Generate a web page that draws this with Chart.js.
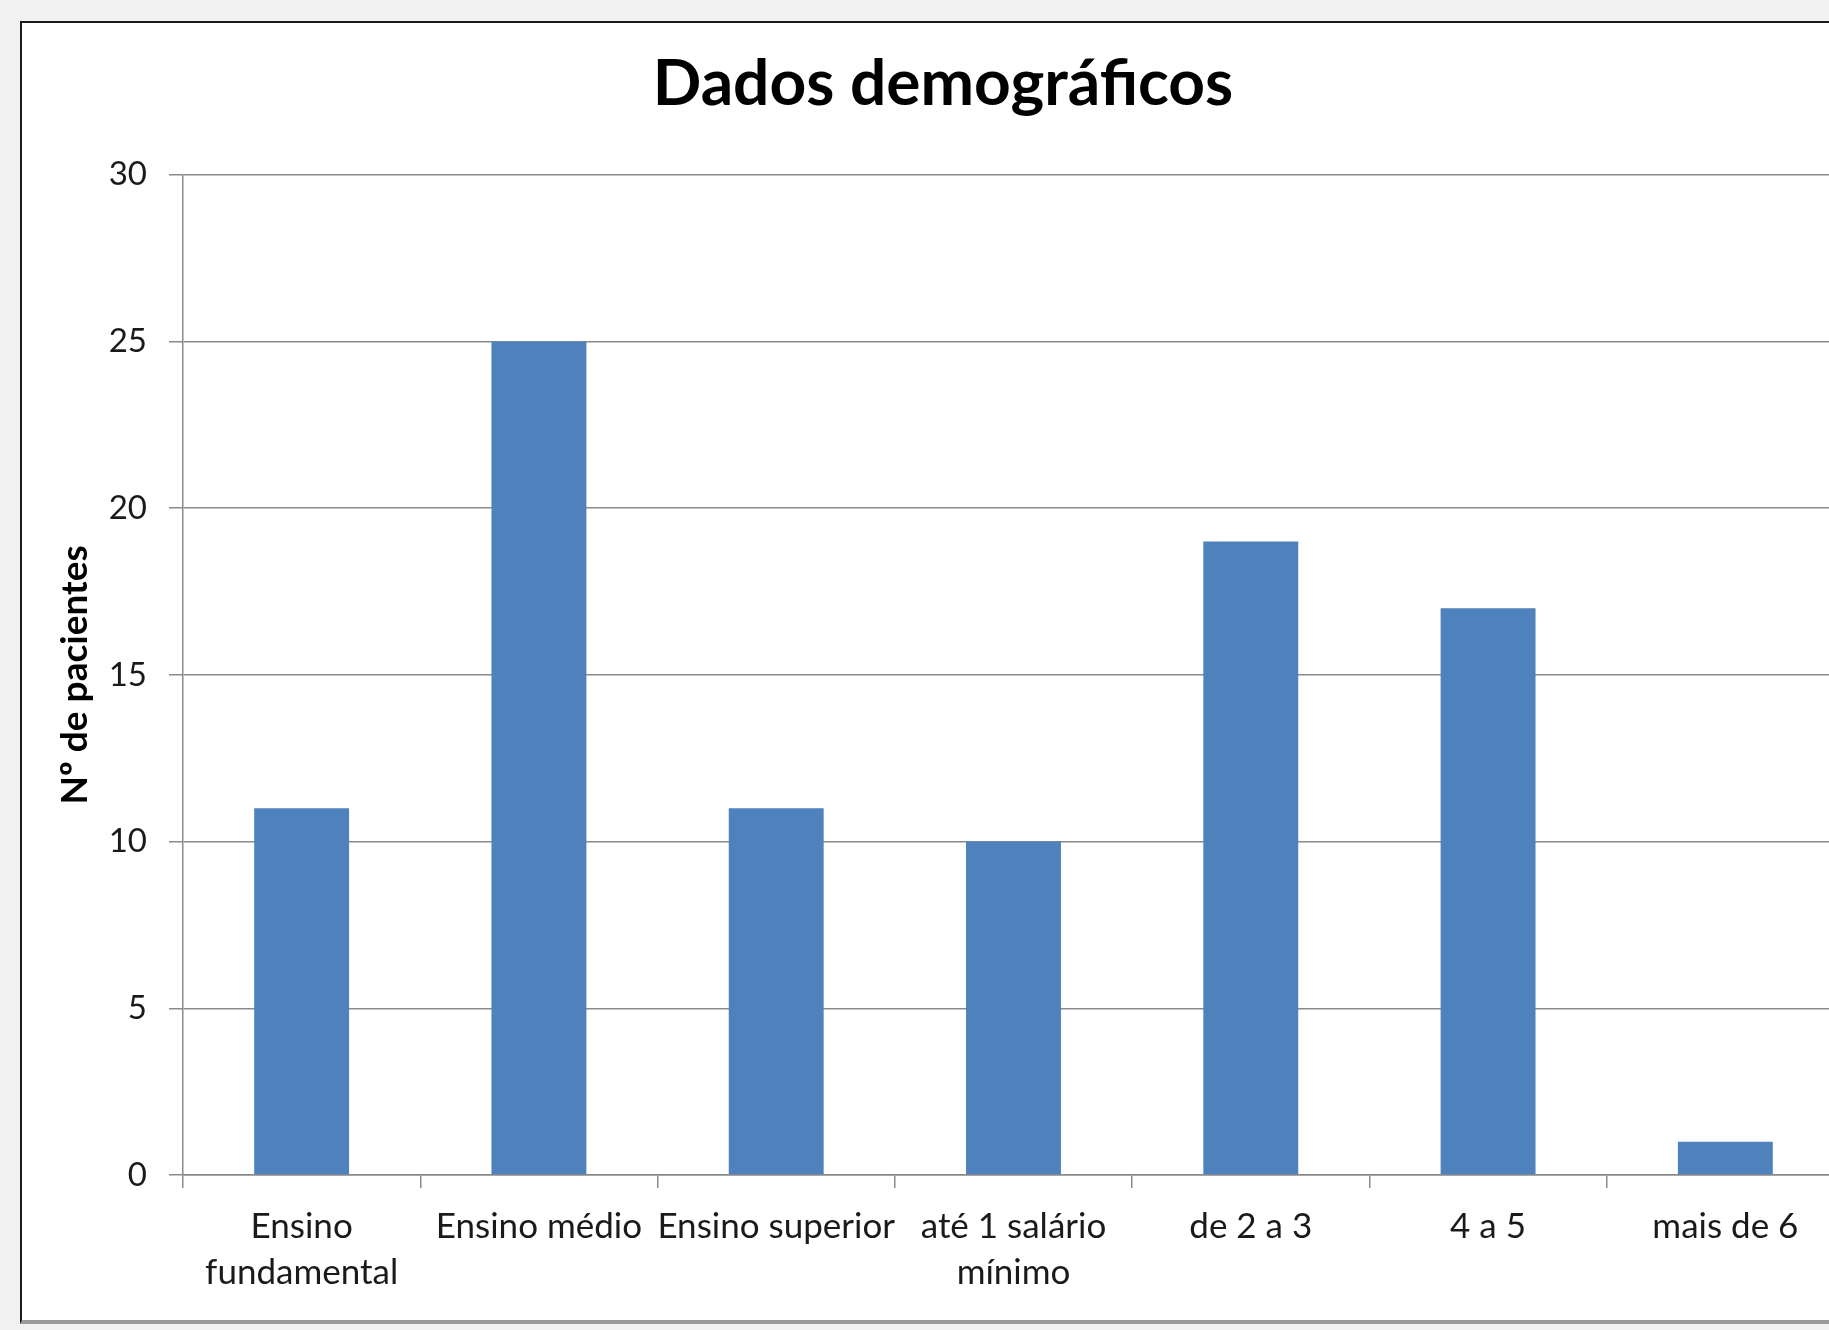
<!DOCTYPE html>
<html>
<head>
<meta charset="utf-8">
<script src="https://cdn.jsdelivr.net/npm/chart.js@4.4.0/dist/chart.umd.min.js"></script>
<style>
  html, body { margin: 0; padding: 0; overflow: hidden; background: #f1f1f1; width: 1829px; height: 1330px; }
  #frame {
    position: absolute; left: 20px; top: 21px; width: 1900px; height: 1297px;
    background: #fff; border-top: 2px solid #1a1a1a; border-left: 2px solid #1a1a1a;
    border-bottom: 4px solid #9a9a9a;
  }
  #wrap { position: absolute; left: 0; top: 0; width: 1842px; height: 1297px; }
</style>
</head>
<body>
<div id="frame"><div id="wrap"><canvas id="demoChart"></canvas></div></div>
<script>
const categories = [
  ['Ensino', 'fundamental'],
  'Ensino médio',
  'Ensino superior',
  ['até 1 salário', 'mínimo'],
  'de 2 a 3',
  '4 a 5',
  'mais de 6',
];
const patients = [11, 25, 11, 10, 19, 17, 1];
const yTicks = [0, 5, 10, 15, 20, 25, 30];

const chartTitle = 'Dados demográficos';
const yTitle = 'Nº de pacientes';

const FONT = "Lato, 'Open Sans', sans-serif";
const gridGray = '#8a8a8a';

new Chart(document.getElementById('demoChart'), {
  type: 'bar',
  data: {
    labels: categories,
    datasets: [{
      label: yTitle,
      data: patients,
      backgroundColor: '#4f81bd',
      borderWidth: 0,
      barPercentage: 0.4,
      categoryPercentage: 1,
    }],
  },
  options: {
    responsive: true,
    maintainAspectRatio: false,
    animation: false,
    layout: { padding: 0 },
    plugins: {
      legend: { display: false },
      tooltip: { enabled: false },
      title: {
        display: true,
        text: chartTitle,
        color: '#000',
        font: { family: FONT, size: 64, weight: 'bold', lineHeight: 1.2 },
        padding: { top: 23, bottom: 52 },
      },
    },
    scales: {
      x: {
        offset: true,
        grid: { display: true, drawOnChartArea: false, drawTicks: true, tickLength: 13, offset: true, color: gridGray, lineWidth: 1.5 },
        border: { display: true, color: gridGray, width: 1.5 },
        ticks: { color: '#1a1a1a', font: { family: FONT, size: 35, lineHeight: 1.33 }, padding: 15, maxRotation: 0, autoSkip: false },
        afterFit: s => { s.height = 145; },
      },
      y: {
        min: 0,
        max: 30,
        afterBuildTicks: s => { s.ticks = yTicks.map(v => ({ value: v })); },
        grid: { color: gridGray, lineWidth: 1.5, tickLength: 14 },
        border: { display: true, color: gridGray, width: 1.5 },
        ticks: { color: '#1a1a1a', font: { family: FONT, size: 33 }, padding: 22 },
        title: {
          display: true,
          text: yTitle,
          color: '#000',
          font: { family: FONT, size: 37, weight: 'bold', lineHeight: 1.2 },
          padding: { top: 31, bottom: 0 },
        },
        afterFit: s => { s.width = 161; },
      },
      // empty right-hand spacer so the plot ends where the original does
      spacer: {
        position: 'right',
        grid: { display: false },
        border: { display: false },
        ticks: { display: false },
        afterFit: s => { s.width = 20; },
      },
    },
  },
});
</script>
</body>
</html>
